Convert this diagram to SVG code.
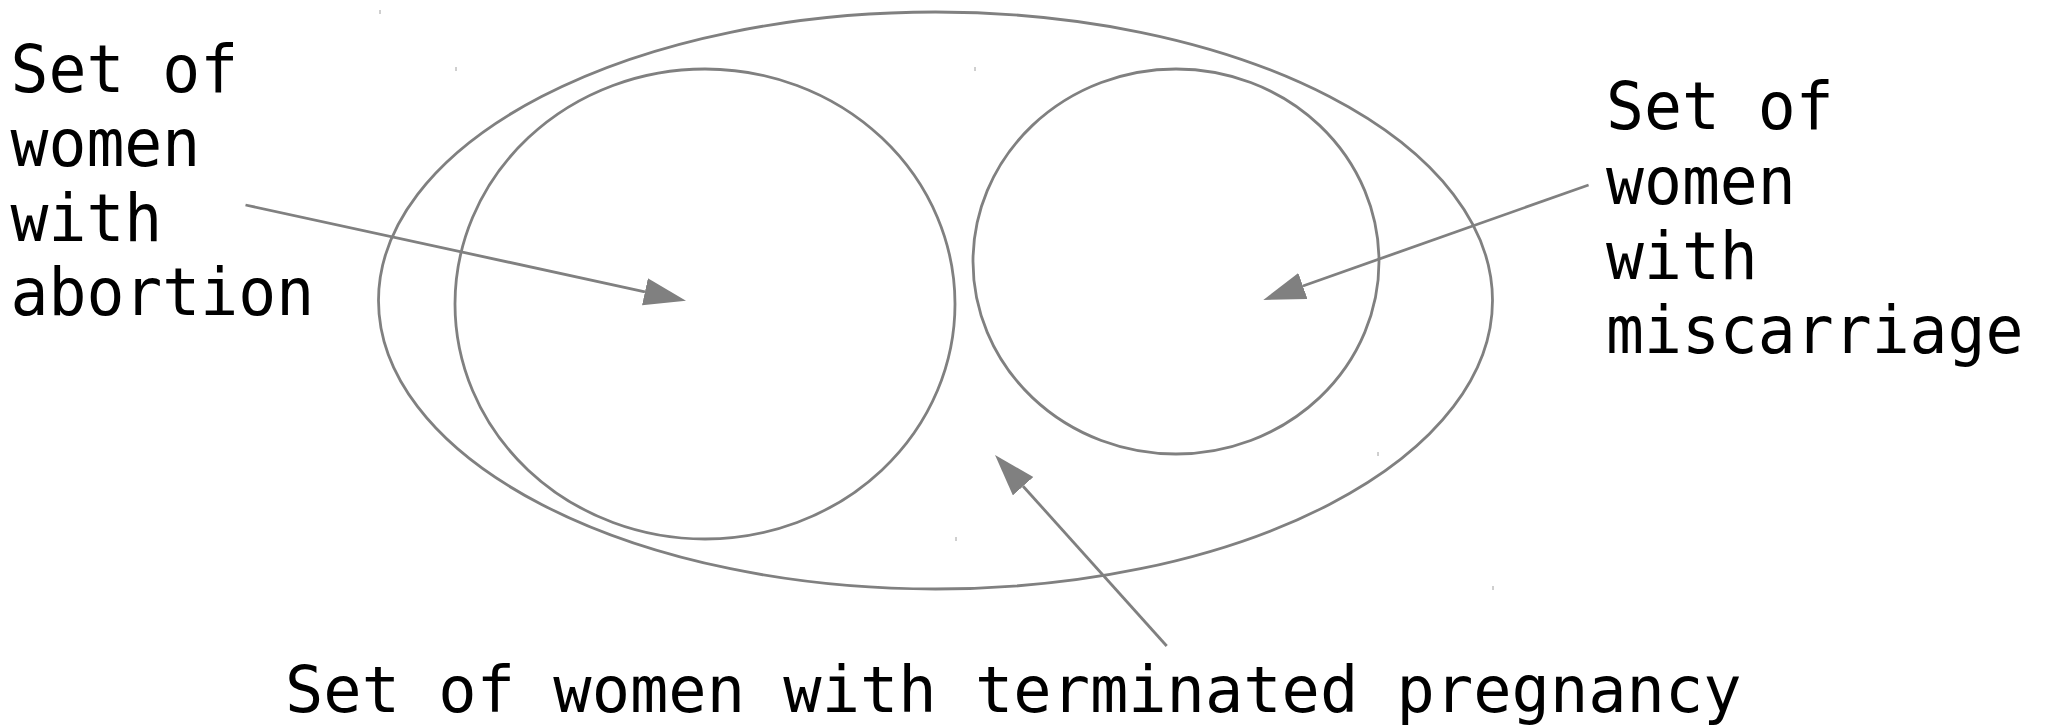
<svg xmlns="http://www.w3.org/2000/svg" width="2046" height="727" viewBox="0 0 2046 727">
  <style>
    .set { fill: none; stroke: #808080; stroke-width: 2.8; }
    .tick { stroke: #a0a0a0; stroke-width: 1; }
    .link { fill: none; stroke: #808080; stroke-width: 2.8; }
    .label { font-family: "DejaVu Sans Mono", "Liberation Mono", monospace; font-size: 64px; fill: #000000; }
  </style>
  <defs>
    <marker id="head" markerUnits="userSpaceOnUse" markerWidth="44" markerHeight="30" refX="0" refY="13.75" orient="auto">
      <path d="M0,0 L42,13.75 L0,27.5 Z" fill="#808080"/>
    </marker>
  </defs>
  <rect x="0" y="0" width="2046" height="727" fill="#ffffff"/>

  <!-- terminated pregnancy: outer set -->
  <g id="set-terminated">
    <ellipse class="set" cx="935.5" cy="300.5" rx="557" ry="288.5"/>
    <line class="tick" x1="380" y1="10" x2="380" y2="14"/>
    <line class="tick" x1="1493" y1="586" x2="1493" y2="590"/>
  </g>

  <!-- abortion subset -->
  <g id="set-abortion">
    <ellipse class="set" cx="705" cy="304" rx="250" ry="235"/>
    <line class="tick" x1="456" y1="67" x2="456" y2="71"/>
    <line class="tick" x1="956" y1="537" x2="956" y2="541"/>
  </g>

  <!-- miscarriage subset -->
  <g id="set-miscarriage">
    <ellipse class="set" cx="1176" cy="261.5" rx="203" ry="192.5"/>
    <line class="tick" x1="975" y1="67" x2="975" y2="71"/>
    <line class="tick" x1="1378" y1="452" x2="1378" y2="456"/>
  </g>

  <!-- labels (slightly condensed, tall mono face) -->
  <g id="label-abortion">
    <text class="label" transform="translate(10.5 91.5) scale(0.985 1.04)">Set of</text>
    <text class="label" transform="translate(10.5 166) scale(0.985 1.04)">women</text>
    <text class="label" transform="translate(10.5 240.5) scale(0.985 1.04)">with</text>
    <text class="label" transform="translate(10.5 315) scale(0.985 1.04)">abortion</text>
  </g>
  <g id="label-miscarriage">
    <text class="label" transform="translate(1606 129.3) scale(0.985 1.04)">Set of</text>
    <text class="label" transform="translate(1606 204) scale(0.985 1.04)">women</text>
    <text class="label" transform="translate(1606 278.5) scale(0.985 1.04)">with</text>
    <text class="label" transform="translate(1606 353.3) scale(0.985 1.04)">miscarriage</text>
  </g>
  <g id="label-terminated">
    <text class="label" transform="translate(285 711.5) scale(0.995 1)">Set of women with terminated pregnancy</text>
  </g>

  <!-- pointers from labels into the sets -->
  <g id="connectors">
    <line class="link" x1="245.5" y1="205" x2="644.96" y2="291.78" marker-end="url(#head)"/>
    <line class="link" x1="1588.6" y1="185" x2="1302.9" y2="286" marker-end="url(#head)"/>
    <line class="link" x1="1166.7" y1="646" x2="1023.1" y2="486.2" marker-end="url(#head)"/>
  </g>
</svg>
